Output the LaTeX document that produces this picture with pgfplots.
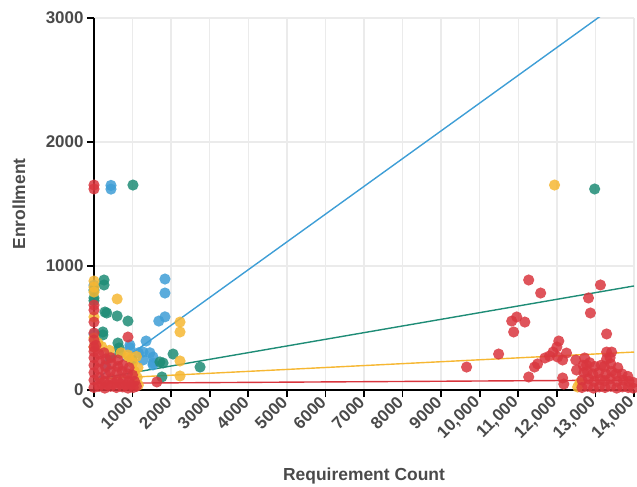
\documentclass[border=0pt]{standalone}
\usepackage{fontspec}
\setmainfont{Liberation Sans}
\usepackage{pgfplots}
\pgfplotsset{compat=1.18}

\definecolor{cblue}{HTML}{3E9ED6}
\definecolor{cteal}{HTML}{1E8C76}
\definecolor{cyellow}{HTML}{F6B732}
\definecolor{cred}{HTML}{D9363E}
\definecolor{labelgray}{HTML}{4A4A4A}

\pgfplotsset{
  pts/.style={only marks, mark=*, color=#1, mark size=5.6bp,
    mark options={fill=#1, draw opacity=0, fill opacity=0.85}},
  fit/.style={no marks, draw=#1, line width=1.4bp},
}

\begin{document}
\begin{tikzpicture}
\begin{axis}[
  scale only axis, width=540bp, height=372bp,
  xmin=0, xmax=14000, ymin=0, ymax=3000,
  axis x line=bottom, axis y line=left,
  axis line style={-, black, line width=2.2bp},
  scaled x ticks=false, scaled y ticks=false,
  xtick={0,1000,...,14000},
  xticklabels={0,1000,2000,3000,4000,5000,6000,7000,8000,9000,{10,000},{11,000},{12,000},{13,000},{14,000}},
  ytick={0,1000,2000,3000},
  yticklabels={0,1000,2000,3000},
  tick align=outside, major tick length=7bp,
  tick style={black, line width=1.8bp},
  grid=major, grid style={black!8, line width=1.3bp},
  /pgf/number format/assume math mode=true,
  xticklabel style={rotate=45, anchor=east, font=\fontsize{17}{20}\selectfont\bfseries, text=labelgray},
  yticklabel style={font=\fontsize{17}{20}\selectfont\bfseries, text=labelgray},
  xlabel={Requirement Count}, ylabel={Enrollment},
  xlabel style={at={(axis description cs:0.5,-0.232)}, anchor=center, font=\fontsize{17.5}{20}\selectfont\bfseries, text=labelgray},
  ylabel style={at={(axis description cs:-0.139,0.5)}, anchor=center, font=\fontsize{17.5}{20}\selectfont\bfseries, text=labelgray},
  clip mode=individual,
]

% regression lines
\addplot[fit=cblue] coordinates {(0,74) (14000,3210)};
\addplot[fit=cteal] coordinates {(0,86) (14000,839)};
\addplot[fit=cyellow] coordinates {(0,88) (14000,306)};
\addplot[fit=cred] coordinates {(0,54) (14000,80)};

% blue
\addplot[pts=cblue] table {
x y
0 845
0 450
440 1650
440 1620
1840 895
1840 782
1680 556
1840 590
1350 395
1270 306
1530 266
1530 218
1270 242
930 363
930 340
1150 300
1450 300
1530 202
300 200
};

% teal
\addplot[pts=cteal] table {
x y
1010 1653
12980 1621
0 806
0 742
260 887
260 847
285 629
330 621
600 597
880 556
230 468
230 444
620 379
650 339
670 298
985 242
415 266
2050 290
2750 185
1710 226
1790 218
1760 105
0 720
};

% yellow
\addplot[pts=cyellow] table {
x y
11940 1653
0 879
0 830
0 790
600 734
2230 548
2230 468
880 282
2230 234
2230 113
12540 24
12600 60
0 589
0 420
0 347
100 380
200 350
400 320
700 300
900 260
1000 220
1050 150
1100 270
1140 180
1120 100
1150 40
};

% red
\addplot[pts=cred] table {
x y
0 1653
0 1621
0 685
0 645
0 548
0 460
0 403
0 347
880 427
620 242
1630 65
0 20
0 80
0 140
0 200
0 260
0 310
130 30
140 100
120 170
150 230
130 290
280 15
270 70
300 130
290 190
310 250
260 300
430 30
450 90
420 150
460 210
440 260
580 20
600 80
590 140
620 190
740 25
760 85
730 150
750 200
880 15
900 70
870 130
910 180
1020 20
1050 70
1000 120
1100 30
50 360
200 50
350 40
520 50
680 50
820 40
960 45
11270 887
11580 782
10830 556
10960 589
11170 548
10880 468
10490 290
9660 185
13130 847
12820 742
12870 621
13290 452
12050 395
12000 347
11900 306
11810 274
11690 258
11500 210
11420 185
12020 266
12150 242
12250 298
11270 105
12150 97
12180 48
12490 242
12510 161
12720 258
12770 202
13290 306
13420 306
12650 20
12650 80
12700 140
12680 200
12800 30
12820 90
12790 150
12850 220
12950 15
12970 70
12930 130
12980 190
13100 25
13120 85
13080 140
13150 200
13250 20
13240 75
13270 130
13230 190
13290 250
13400 30
13380 90
13420 150
13400 210
13380 260
13550 15
13560 70
13530 130
13580 180
13700 25
13720 80
13690 130
13850 20
13870 70
13840 110
13980 15
13990 60
};
\end{axis}
\pgfresetboundingbox
\path[use as bounding box] (-94bp,-97bp) rectangle (543bp,390bp);
\end{tikzpicture}
\end{document}
